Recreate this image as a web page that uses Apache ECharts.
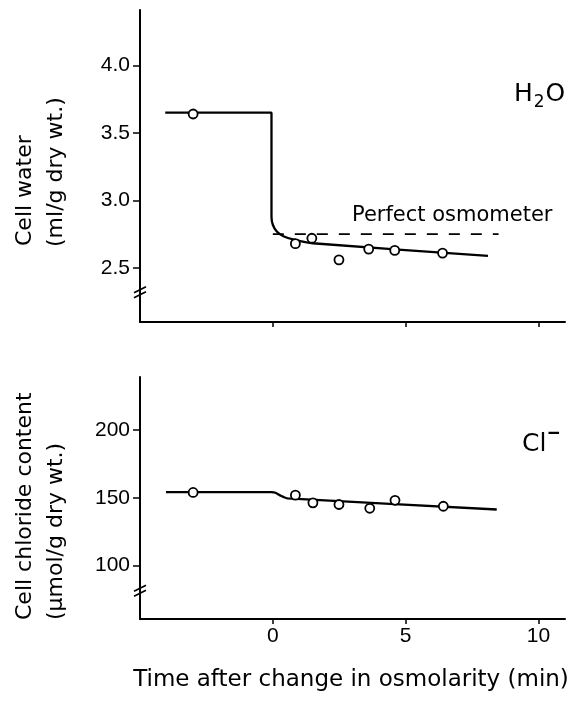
<!DOCTYPE html>
<html><head><meta charset="utf-8">
<script src="https://cdn.jsdelivr.net/npm/echarts@6/dist/echarts.min.js"></script>
<style>html,body{margin:0;padding:0;background:#fff}#c{width:570px;height:702px}</style>
</head><body><div id="c"></div>
<script>
// ---- data ----
const timeTicks = [0, 5, 10];
const waterTicks = [2.5, 3.0, 3.5, 4.0];
const chlorideTicks = [100, 150, 200];

const waterTimes  = [-3, 0.85, 1.47, 2.49, 3.61, 4.59, 6.39];
const waterValues = [3.64, 2.68, 2.72, 2.56, 2.64, 2.63, 2.61];
const waterFitTimes  = [-4.05, -0.05, -0.05, 0.0, 0.15, 0.4, 0.8, 1.5, 8.1];
const waterFitValues = [3.65, 3.65, 2.88, 2.82, 2.77, 2.735, 2.71, 2.683, 2.59];
const osmometerTimes  = [0, 8.5];
const osmometerValues = [2.75, 2.75];

const chlorideTimes  = [-3, 0.85, 1.51, 2.49, 3.65, 4.6, 6.42];
const chlorideValues = [154, 152, 146.3, 145.1, 142.3, 148.2, 143.8];
const chlorideFitTimes  = [-4.02, -0.05, 0.1, 0.3, 0.56, 8.43];
const chlorideFitValues = [154.3, 154.3, 153.8, 151.6, 149.6, 141.4];

const waterBreak = 2.32;
const chlorideBreak = 81.4;

// ---- chart ----
const FONT = 'DejaVu Sans';
const TICKFONT = 'Liberation Sans';
const pairs = (xs, ys) => xs.map((x, i) => [x, ys[i]]);
const chart = echarts.init(document.getElementById('c'), null, {renderer: 'canvas'});

const lineStyleAxis = {color: '#000', width: 2};
function xAxisCfg(gi, showLabels) {
  return {
    gridIndex: gi, type: 'value', min: -5, max: 11,
    axisLine: {show: true, onZero: false, lineStyle: lineStyleAxis},
    axisTick: {show: true, length: 5, customValues: timeTicks, lineStyle: {color: '#000', width: 1.5}},
    axisLabel: {show: showLabels, customValues: timeTicks, fontFamily: TICKFONT, fontSize: 21, color: '#000', margin: 7},
    splitLine: {show: false}
  };
}
function yAxisCfg(gi, min, max, ticks, fmt) {
  return {
    gridIndex: gi, type: 'value', min: min, max: max,
    axisLine: {show: true, onZero: false, lineStyle: lineStyleAxis},
    axisTick: {show: true, length: 7, customValues: ticks, lineStyle: {color: '#000', width: 1.5}},
    axisLabel: {show: true, customValues: ticks, formatter: fmt, fontFamily: TICKFONT, fontSize: 21, color: '#000', margin: 10},
    splitLine: {show: false}
  };
}
const markerStyle = {color: '#fff', borderColor: '#000', borderWidth: 1.8, opacity: 1};

chart.setOption({
  animation: false,
  backgroundColor: '#fff',
  grid: [
    {left: 140, top: 10, right: 5, height: 312},
    {left: 140, top: 377, right: 5, height: 242}
  ],
  xAxis: [xAxisCfg(0, false), xAxisCfg(1, true)],
  yAxis: [
    yAxisCfg(0, 2.1, 4.41, waterTicks, v => Number(v).toFixed(1)),
    yAxisCfg(1, 60.5, 239.3, chlorideTicks, v => String(Math.round(v)))
  ],
  series: [
    {type: 'line', xAxisIndex: 0, yAxisIndex: 0, data: pairs(waterFitTimes, waterFitValues),
     showSymbol: false, smooth: 0.15, lineStyle: {color: '#000', width: 2.3}, z: 2},
    {type: 'line', xAxisIndex: 0, yAxisIndex: 0, data: pairs(osmometerTimes, osmometerValues),
     showSymbol: false, lineStyle: {color: '#000', width: 1.8, type: [11, 11]}, z: 2},
    {type: 'scatter', xAxisIndex: 0, yAxisIndex: 0, data: pairs(waterTimes, waterValues),
     symbol: 'circle', symbolSize: 9, itemStyle: markerStyle, z: 3},
    {type: 'line', xAxisIndex: 1, yAxisIndex: 1, data: pairs(chlorideFitTimes, chlorideFitValues),
     showSymbol: false, smooth: 0.15, lineStyle: {color: '#000', width: 2.3}, z: 2},
    {type: 'scatter', xAxisIndex: 1, yAxisIndex: 1, data: pairs(chlorideTimes, chlorideValues),
     symbol: 'circle', symbolSize: 9, itemStyle: markerStyle, z: 3}
  ]
});

function breakMark(yPix) {
  const x = chart.convertToPixel({xAxisIndex: 0}, -5);
  const mk = dy => ({type: 'line', shape: {x1: x - 6, y1: yPix + dy + 3, x2: x + 6, y2: yPix + dy - 3},
    style: {stroke: '#000', lineWidth: 1.8}, z: 10});
  return [mk(-2.5), mk(2.5)];
}
const yb0 = chart.convertToPixel({yAxisIndex: 0}, waterBreak);
const yb1 = chart.convertToPixel({yAxisIndex: 1}, chlorideBreak);

const txt = (x, y, s, size, extra) => Object.assign({
  type: 'text', x: x, y: y,
  style: {text: s, fill: '#000', font: size + 'px "' + FONT + '"', textAlign: 'left', textVerticalAlign: 'middle'}
}, extra || {});

chart.setOption({
  graphic: [
    ...breakMark(yb0), ...breakMark(yb1),
    txt(352, 216, 'Perfect osmometer', 21),
    {type: 'text', x: 514, y: 94, style: {
      text: '{n|H}{s|2}{n|O}', fill: '#000', textAlign: 'left', textVerticalAlign: 'middle',
      rich: {n: {fontFamily: FONT, fontSize: 25, lineHeight: 28},
             s: {fontFamily: FONT, fontSize: 17, lineHeight: 17, padding: [18, 1, 0, 1]}}}},
    {type: 'text', x: 522, y: 444, style: {
      text: '{n|Cl}{p|\u2012}', fill: '#000', textAlign: 'left', textVerticalAlign: 'middle',
      rich: {n: {fontFamily: FONT, fontSize: 25, lineHeight: 28},
             p: {fontFamily: FONT, fontSize: 18, lineHeight: 18, fontWeight: 'bold', padding: [0, 0, 22, 1]}}}},
    txt(25, 246, 'Cell water', 22, {rotation: Math.PI / 2}),
    txt(56, 247, '(ml/g dry wt.)', 22, {rotation: Math.PI / 2}),
    txt(25, 620, 'Cell chloride content', 22, {rotation: Math.PI / 2}),
    txt(56, 620, '(\u00B5mol/g dry wt.)', 22, {rotation: Math.PI / 2}),
    {type: 'text', x: 351, y: 680, style: {text: 'Time after change in osmolarity (min)', fill: '#000',
      font: '23px "' + FONT + '"', textAlign: 'center', textVerticalAlign: 'middle'}}
  ]
});
</script></body></html>
